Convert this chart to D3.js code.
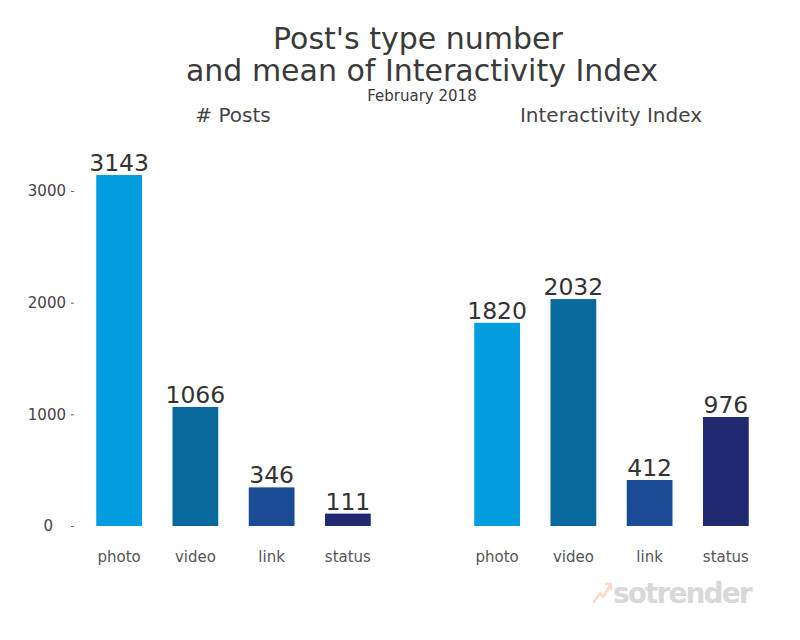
<!DOCTYPE html>
<html>
<head>
<meta charset="utf-8">
<script src="https://cdn.jsdelivr.net/npm/d3@7"></script>
<style>
  body { margin: 0; background: #fff; }
  text { font-family: "DejaVu Sans", sans-serif; }
</style>
</head>
<body>
<div id="chart"></div>
<script>
const categories = ["photo", "video", "link", "status"];
const posts = [3143, 1066, 346, 111];
const interactivity = [1820, 2032, 412, 976];
const yTicks = [0, 1000, 2000, 3000];
const colors = ["#039de0", "#08699c", "#1a4b94", "#212a70"];

const width = 800;
const height = 640;

const svg = d3.select("#chart").append("svg")
  .attr("width", width)
  .attr("height", height)
  .style("background", "white");

// shared vertical scale (both panels use the same one)
const y = d3.scaleLinear().domain([0, 3000]).range([526, 191]);

const panels = [
  { title: "# Posts", values: posts, range: [81, 386], axis: true },
  { title: "Interactivity Index", values: interactivity, range: [459, 764], axis: false }
];

// Titles
svg.append("text")
  .attr("x", 418).attr("y", 49)
  .attr("text-anchor", "middle")
  .attr("font-size", "30px").attr("fill", "#3a3a3a")
  .text("Post's type number");
svg.append("text")
  .attr("x", 422).attr("y", 81)
  .attr("text-anchor", "middle")
  .attr("font-size", "30px").attr("fill", "#3a3a3a")
  .text("and mean of Interactivity Index");
svg.append("text")
  .attr("x", 422).attr("y", 101)
  .attr("text-anchor", "middle")
  .attr("font-size", "15px").attr("fill", "#3a3a3a")
  .text("February 2018");

panels.forEach(p => {
  const x = d3.scaleBand()
    .domain(categories)
    .range(p.range)
    .paddingInner(0.4)
    .paddingOuter(0.2);

  const data = categories.map((c, i) => ({ cat: c, value: p.values[i], color: colors[i] }));
  const g = svg.append("g");

  g.append("text")
    .attr("x", p.axis ? 233 : 611)
    .attr("y", 122)
    .attr("text-anchor", "middle")
    .attr("font-size", "20px").attr("fill", "#444")
    .text(p.title);

  g.selectAll("rect").data(data).join("rect")
    .attr("x", d => x(d.cat))
    .attr("y", d => y(d.value))
    .attr("width", x.bandwidth())
    .attr("height", d => y(0) - y(d.value))
    .attr("fill", d => d.color);

  g.selectAll("text.value").data(data).join("text")
    .attr("class", "value")
    .attr("x", d => x(d.cat) + x.bandwidth() / 2)
    .attr("y", d => y(d.value) - 4)
    .attr("text-anchor", "middle")
    .attr("font-size", "23.5px").attr("fill", "#333")
    .text(d => d.value);

  g.selectAll("text.cat").data(data).join("text")
    .attr("class", "cat")
    .attr("x", d => x(d.cat) + x.bandwidth() / 2)
    .attr("y", 562)
    .attr("text-anchor", "middle")
    .attr("font-size", "15px").attr("fill", "#555")
    .text(d => d.cat);

  if (p.axis) {
    const ax = svg.append("g")
      .attr("transform", "translate(74,0)")
      .call(d3.axisLeft(y).tickValues(yTicks).tickSize(3).tickPadding(5).tickFormat(d3.format("d")));
    ax.select(".domain").remove();
    ax.selectAll(".tick line").attr("stroke", "#666");
    ax.selectAll(".tick text")
      .attr("font-size", "15px").attr("fill", "#444")
      .attr("font-family", "DejaVu Sans, sans-serif");
    // the zero label sits further left in the original
    ax.selectAll(".tick").filter(d => d === 0).select("text").attr("x", -21);
  }
});

// watermark
const wm = svg.append("g").attr("opacity", 0.9);
wm.append("path")
  .attr("d", "M594,602 L600,593 L603,597 L611,584 M606,584 L611,584 L611,589")
  .attr("fill", "none").attr("stroke", "#f8d8c4").attr("stroke-width", 2.5)
  .attr("stroke-linecap", "round").attr("stroke-linejoin", "round");
wm.append("text")
  .attr("x", 613).attr("y", 603)
  .attr("font-size", "28px").attr("font-weight", "bold")
  .attr("fill", "#d4d4d4")
  .attr("letter-spacing", "-1.9px")
  .text("sotrender");
</script>
</body>
</html>
